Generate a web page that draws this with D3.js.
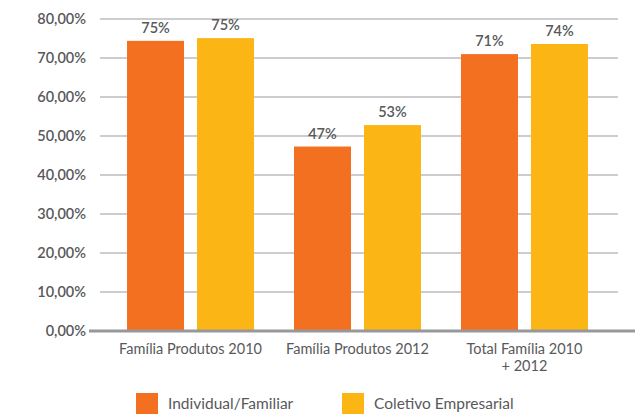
<!DOCTYPE html>
<html>
<head>
<meta charset="utf-8">
<script src="https://cdn.jsdelivr.net/npm/d3@7"></script>
<style>
  body { margin: 0; background: #fff; }
  svg { display: block; font-family: Lato, "Open Sans", sans-serif; }
</style>
</head>
<body>
<div class="bar-chart"></div>
<script>
const categories = [['Família Produtos 2010'], ['Família Produtos 2012'], ['Total Família 2010', '+ 2012']];
const series = ['Individual/Familiar', 'Coletivo Empresarial'];
const individual = [74.4, 47.3, 71.0];
const coletivo = [75.1, 52.8, 73.6];
const valueLabels = [['75%', '47%', '71%'], ['75%', '53%', '74%']];
const ticks = [0, 10, 20, 30, 40, 50, 60, 70, 80];

const config = {
  width: 635,
  height: 414,
  colors: ['#f37021', '#fbb615'],
  text: '#58595b'
};

const values = [individual, coletivo];

const svg = d3.select('.bar-chart')
  .append('svg')
  .attr('width', config.width)
  .attr('height', config.height);

const x0 = d3.scaleBand()
  .domain(d3.range(categories.length))
  .range([107, 608])
  .paddingInner(0.2395)
  .paddingOuter(0.12);

const x1 = d3.scaleBand()
  .domain(d3.range(series.length))
  .range([0, x0.bandwidth()])
  .paddingInner(0.1857);

const y = d3.scaleLinear()
  .domain([0, 80])
  .range([331, 19]);

// gridlines
svg.append('g')
  .selectAll('line')
  .data(ticks.slice(1))
  .enter()
  .append('line')
  .attr('x1', 100)
  .attr('x2', 618)
  .attr('y1', d => y(d))
  .attr('y2', d => y(d))
  .attr('stroke', '#bcbcc0')
  .attr('stroke-width', 1.6);

// y tick labels
svg.append('g')
  .selectAll('text')
  .data(ticks)
  .enter()
  .append('text')
  .attr('x', 86)
  .attr('y', d => y(d))
  .attr('dy', '0.35em')
  .attr('text-anchor', 'end')
  .attr('font-size', 14.5)
  .attr('font-weight', 600)
  .attr('fill', config.text)
  .text(d => d3.format('.2f')(d).replace('.', ',') + '%');

// bars
const groups = svg.append('g')
  .selectAll('g')
  .data(categories)
  .enter()
  .append('g')
  .attr('transform', (d, i) => `translate(${x0(i)},0)`);

groups.each(function (cat, ci) {
  const g = d3.select(this);
  series.forEach((s, si) => {
    const v = values[si][ci];
    g.append('rect')
      .attr('x', x1(si))
      .attr('y', y(v))
      .attr('width', x1.bandwidth())
      .attr('height', y(0) - y(v))
      .attr('fill', config.colors[si]);
    g.append('text')
      .attr('x', x1(si) + x1.bandwidth() / 2)
      .attr('y', y(v) - 8)
      .attr('text-anchor', 'middle')
      .attr('font-size', 14.5)
      .attr('font-weight', 600)
      .attr('fill', config.text)
      .text(valueLabels[si][ci]);
  });
  const label = g.append('text')
    .attr('x', x0.bandwidth() / 2)
    .attr('y', 354)
    .attr('text-anchor', 'middle')
    .attr('font-size', 14.5)
    .attr('fill', config.text);
  cat.forEach((line, li) => {
    label.append('tspan')
      .attr('x', x0.bandwidth() / 2)
      .attr('dy', li === 0 ? 0 : 17)
      .text(line);
  });
});

// x axis line
svg.append('line')
  .attr('x1', 89)
  .attr('x2', 635)
  .attr('y1', y(0))
  .attr('y2', y(0))
  .attr('stroke', '#98989c')
  .attr('stroke-width', 3);

// legend
const legendX = [136, 342];
const legend = svg.append('g')
  .selectAll('g')
  .data(series)
  .enter()
  .append('g')
  .attr('transform', (d, i) => `translate(${legendX[i]},393)`);

legend.append('rect')
  .attr('width', 22)
  .attr('height', 21)
  .attr('fill', (d, i) => config.colors[i]);

legend.append('text')
  .attr('x', 32)
  .attr('y', 11)
  .attr('dy', '0.35em')
  .attr('font-size', 15.5)
  .attr('fill', config.text)
  .text(d => d);
</script>
</body>
</html>
